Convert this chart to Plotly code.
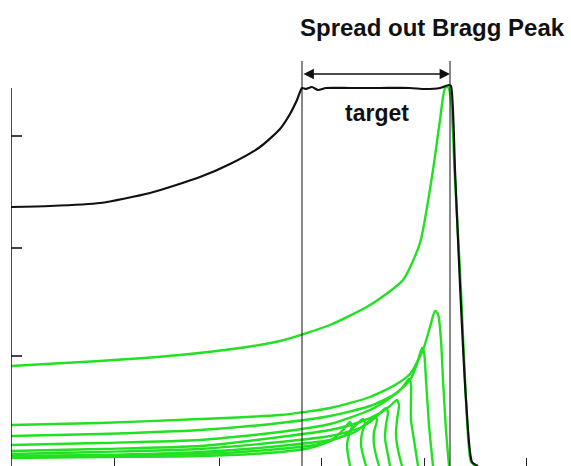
import plotly.graph_objects as go

# Depth / dose values (arbitrary units, no tick labels shown)
sobp_depth = [0, 39, 89, 139, 189, 219, 249, 269, 279, 286, 291, 295, 301, 307, 315, 339, 369, 399, 414, 429, 438, 440, 444, 449, 455, 461, 467]
sobp_dose = [259, 260, 263, 273, 289, 302, 319, 337, 352, 366, 378, 377, 379, 376, 378, 378, 378, 378, 377, 378, 381, 380, 296, 181, 66, 4, 0]

p1_depth = [0, 89, 169, 229, 269, 319, 359, 392, 409, 422, 429, 434, 437, 440, 444, 450, 455, 460, 465]
p1_dose = [100, 105, 111, 118, 125, 141, 161, 186, 223, 296, 346, 378, 379, 366, 286, 176, 66, 4, 0]

p2_depth = [0, 89, 189, 269, 319, 359, 384, 399, 412, 419, 424, 427, 430, 432, 435, 438]
p2_dose = [41, 43, 47, 51, 58, 69, 81, 92, 116, 139, 155, 152, 126, 86, 36, 0]

p3_depth = [0, 89, 189, 269, 319, 359, 384, 399, 406, 411, 413, 415, 418, 422]
p3_dose = [30, 32, 36, 43, 50, 60, 72, 86, 102, 118, 114, 86, 41, 0]

p4_depth = [0, 89, 189, 269, 319, 359, 379, 391, 398, 400, 400, 400, 403, 407]
p4_dose = [21, 23, 26, 34, 42, 56, 68, 78, 87, 82, 66, 46, 26, 0]

p5_depth = [0, 89, 189, 269, 319, 349, 369, 379, 386, 388, 386, 385, 387, 391]
p5_dose = [15, 17, 20, 29, 36, 44, 53, 60, 66, 61, 46, 31, 16, 0]

p6_depth = [0, 89, 189, 269, 319, 349, 364, 375, 377, 375, 374, 376, 379]
p6_dose = [12, 14, 17, 24, 30, 38, 48, 58, 54, 41, 28, 16, 0]

p7_depth = [0, 89, 189, 269, 319, 344, 357, 364, 366, 363, 363, 365, 368]
p7_dose = [10, 11, 14, 20, 26, 34, 44, 50, 46, 34, 21, 11, 0]

p8_depth = [0, 89, 189, 269, 309, 334, 346, 352, 354, 351, 350, 352, 355]
p8_dose = [9, 10, 12, 17, 22, 31, 42, 47, 43, 33, 21, 11, 0]

p9_depth = [0, 89, 189, 269, 299, 319, 332, 339, 341, 338, 336, 337, 339]
p9_dose = [8, 9, 10, 14, 18, 25, 36, 44, 40, 31, 21, 11, 0]

target_start = 291
target_end = 439
x_ticks = [103, 208, 310, 413, 515]
y_ticks = [110, 218, 330]
axis_top = 378
title_text = "Spread out Bragg Peak"
target_text = "target"

GREEN = "#22e022"

fig = go.Figure()
peaks = [(p9_depth, p9_dose), (p8_depth, p8_dose), (p7_depth, p7_dose), (p6_depth, p6_dose),
         (p5_depth, p5_dose), (p4_depth, p4_dose), (p3_depth, p3_dose), (p2_depth, p2_dose),
         (p1_depth, p1_dose)]
for d, v in peaks:
    fig.add_trace(go.Scatter(x=d, y=v, mode="lines",
                             line=dict(color=GREEN, width=2.4, shape="spline", smoothing=0.6),
                             hoverinfo="skip", showlegend=False))
fig.add_trace(go.Scatter(x=sobp_depth, y=sobp_dose, mode="lines",
                         line=dict(color="#111111", width=2.2, shape="spline", smoothing=0.6),
                         hoverinfo="skip", showlegend=False))

# left axis line (only up to axis_top)
fig.add_shape(type="line", x0=0, x1=0, y0=0, y1=axis_top, line=dict(color="#111111", width=1.5))
# target boundary lines
for xv in (target_start, target_end):
    fig.add_shape(type="line", x0=xv, x1=xv, y0=0, y1=405, line=dict(color="#111111", width=1))

fig.add_annotation(x=target_end, y=392, ax=target_start, ay=392, xref="x", yref="y",
                   axref="x", ayref="y", showarrow=True, arrowhead=2, arrowside="end+start",
                   arrowsize=1.3, arrowwidth=1.6, arrowcolor="#111111", text="")
fig.add_annotation(x=366, y=353, text="<b>" + target_text + "</b>", showarrow=False, xref="x", yref="y",
                   font=dict(family="Liberation Sans, Arial", size=23, color="#111111"),
                   xanchor="center", yanchor="middle")
fig.add_annotation(x=556, y=439, text="<b>" + title_text + "</b>", showarrow=False, xref="x", yref="y",
                   font=dict(family="Liberation Sans, Arial", size=24, color="#111111"),
                   xanchor="right", yanchor="middle")

fig.update_layout(
    width=571, height=466, autosize=False,
    margin=dict(l=11, r=0, t=0, b=0),
    paper_bgcolor="white", plot_bgcolor="white",
    xaxis=dict(range=[0, 560], showgrid=False, zeroline=False, showline=False,
               tickmode="array", tickvals=x_ticks, ticks="inside", ticklen=8,
               tickcolor="#222222", tickwidth=1, showticklabels=False, fixedrange=True),
    yaxis=dict(range=[0, 466], showgrid=False, zeroline=False, showline=False,
               tickmode="array", tickvals=y_ticks, ticks="inside", ticklen=11,
               tickcolor="#444444", tickwidth=1.5, showticklabels=False, fixedrange=True),
)

fig.write_html("out.html", config={"displayModeBar": False},
               post_script="document.body.style.margin='0';")
